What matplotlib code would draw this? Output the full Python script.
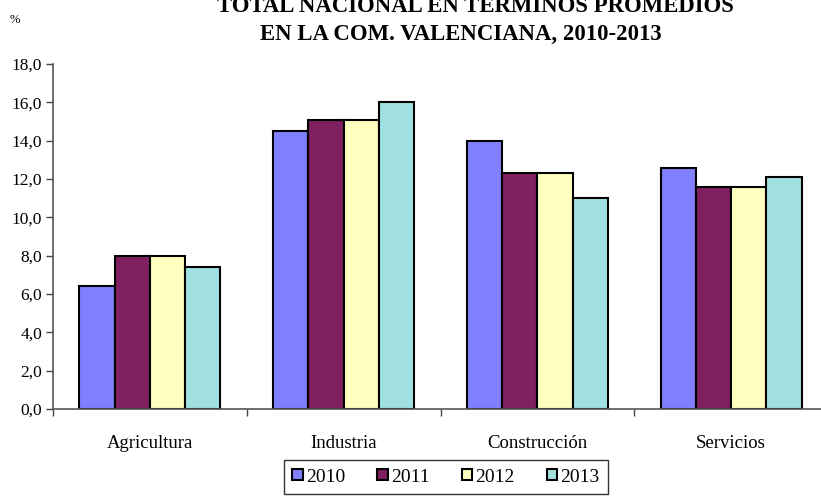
import matplotlib
matplotlib.use("Agg")
import matplotlib.pyplot as plt
import numpy as np
from matplotlib.ticker import FuncFormatter

# sectors and yearly values (%)
sectors = ["Agricultura", "Industria", "Construcción", "Servicios"]
years = ["2010", "2011", "2012", "2013"]
v2010 = [6.4, 14.5, 14.0, 12.6]
v2011 = [8.0, 15.1, 12.3, 11.6]
v2012 = [8.0, 15.1, 12.3, 11.6]
v2013 = [7.4, 16.0, 11.0, 12.1]
colors = ["#8080FF", "#802060", "#FFFFC0", "#A0E0E0"]

plt.rcParams["font.family"] = ["Liberation Serif", "DejaVu Serif"]

fig = plt.figure(figsize=(8.21, 4.97), dpi=100)
ax = fig.add_axes([53 / 821, 88 / 497, 775 / 821, 345 / 497])

x = np.arange(len(sectors))
w = 0.182
for i, (vals, c, yr) in enumerate(zip([v2010, v2011, v2012, v2013], colors, years)):
    ax.bar(x + (i - 1.5) * w, vals, width=w, color=c, edgecolor="black",
           linewidth=1.5, label=yr, zorder=2)

ax.set_xlim(-0.5, 3.5)
ax.set_ylim(0, 18)
ax.set_yticks(np.arange(0, 19, 2))
ax.yaxis.set_major_formatter(FuncFormatter(lambda v, p: f"{v:.1f}".replace(".", ",")))
ax.set_xticks(x)
ax.set_xticklabels(sectors, fontsize=13.5)
ax.set_xticks(np.arange(-0.5, 4, 1), minor=True)
ax.tick_params(axis="x", which="major", length=0, pad=19)
ax.tick_params(axis="x", which="minor", length=5, width=1, color="#444444")
ax.tick_params(axis="y", length=5, width=1, color="#444444", labelsize=12.5, pad=3)
for s in ["top", "right"]:
    ax.spines[s].set_visible(False)
for s in ["left", "bottom"]:
    ax.spines[s].set_color("#555555")
    ax.spines[s].set_linewidth(1.2)

fig.text(475 / 821, 1 - 6 / 497, "TOTAL NACIONAL EN TERMINOS PROMEDIOS",
         ha="center", va="center", fontsize=16.4, fontweight="bold")
fig.text(461 / 821, 1 - 34 / 497, "EN LA COM. VALENCIANA, 2010-2013",
         ha="center", va="center", fontsize=16.4, fontweight="bold")
fig.text(15 / 821, 1 - 20 / 497, "%", ha="center", va="center", fontsize=9)

leg = fig.legend(loc="center", bbox_to_anchor=(446 / 821, 1 - 477 / 497), ncol=4,
                 fontsize=14, frameon=True, fancybox=False, edgecolor="black",
                 handlelength=0.55, handleheight=0.55, handletextpad=0.15,
                 columnspacing=1.65, borderpad=0.45)
leg.get_frame().set_linewidth(1.0)

fig.savefig("out.png", dpi=100)
